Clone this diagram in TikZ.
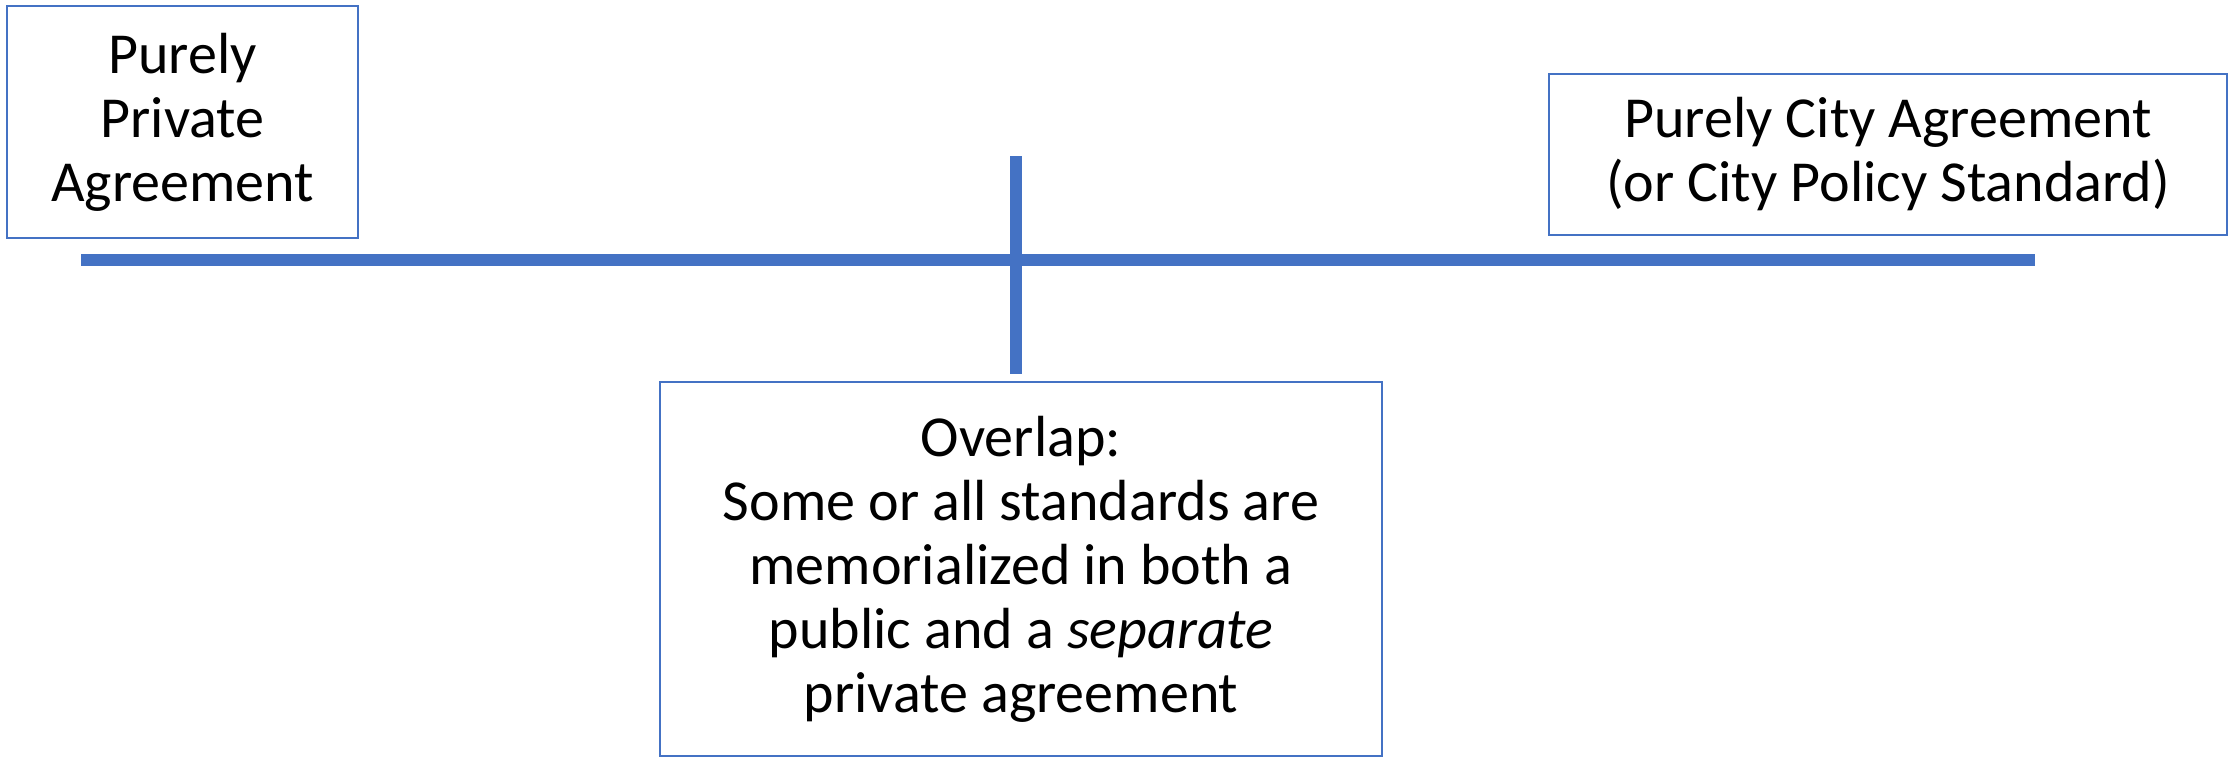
\documentclass[tikz,border=0pt]{standalone}
\usepackage{fontspec}
\setmainfont{Carlito}
\definecolor{officeblue}{RGB}{68,114,196}
\begin{document}
\begin{tikzpicture}[x=0.01cm,y=-0.01cm,
  box/.style={draw=officeblue, line width=0.6pt, rectangle, align=center, inner sep=0pt, font=\fontsize{16.5}{18.2}\selectfont},
  bar/.style={draw=officeblue, line width=3.4pt}]
\useasboundingbox (0,0) rectangle (2231,757);
\node[box, minimum width=3.51cm, minimum height=2.32cm] (priv) at (182.5,122) {Purely\\Private\\Agreement};
\node[box, minimum width=6.78cm, minimum height=1.61cm] (city) at (1888,154.5) {Purely City Agreement\\(or City Policy Standard)};
\node[box, minimum width=7.22cm, minimum height=3.74cm] (over) at (1021,569) {Overlap:\\Some or all standards are\\memorialized in both a\\public and a \textit{separate}\\private agreement};
\coordinate (hl) at (81,260);
\coordinate (hr) at (2035,260);
\coordinate (vt) at (1016,156);
\coordinate (vb) at (1016,374);
\draw[bar] (hl) -- (hr);
\draw[bar] (vt) -- (vb);
\end{tikzpicture}
\end{document}
